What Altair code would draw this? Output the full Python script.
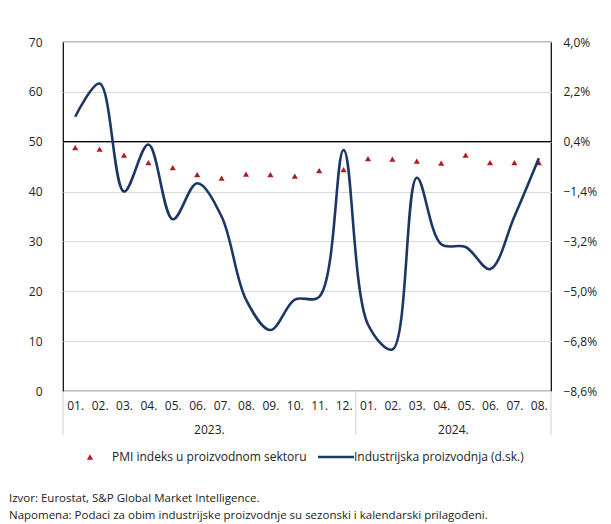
import altair as alt
import pandas as pd

months = ["01.", "02.", "03.", "04.", "05.", "06.", "07.", "08.", "09.", "10.", "11.", "12.",
          "01.", "02.", "03.", "04.", "05.", "06.", "07.", "08."]
years = ["2023.", "2024."]
year_centers = [5.5, 15.5]
separators = [-0.5, 11.5, 19.5]
pmi = [48.8, 48.5, 47.3, 45.8, 44.8, 43.4, 42.7, 43.5, 43.4, 43.1, 44.2, 44.4,
       46.6, 46.5, 46.1, 45.7, 47.3, 45.8, 45.8, 45.8]
ip = [1.3, 2.5, -1.4, 0.3, -2.4, -1.1, -2.3, -5.3, -6.4, -5.3, -5.2, 0.1,
      -6.2, -7.1, -0.9, -3.3, -3.4, -4.2, -2.3, -0.2]
left_ticks = [0, 10, 20, 30, 40, 50, 60, 70]
right_ticks = [-8.6, -6.8, -5.0, -3.2, -1.4, 0.4, 2.2, 4.0]
legend_labels = ["PMI indeks u proizvodnom sektoru", "Industrijska proizvodnja (d.sk.)"]
footer = ["Izvor: Eurostat, S&P Global Market Intelligence.",
          "Napomena: Podaci za obim industrijske proizvodnje su sezonski i kalendarski prilagođeni."]

FONT = "Open Sans"
RED = "#b01c26"
NAVY = "#1d3765"
W, H = 488, 349

df = pd.DataFrame({"x": list(range(len(months))), "pmi": pmi, "ip": ip})
sep_df = pd.DataFrame({"x": separators})
year_df = pd.DataFrame({"x": year_centers, "label": years})

month_expr = "[" + ",".join("'%s'" % m for m in months) + "][datum.value]"
X = alt.X("x:Q", scale=alt.Scale(domain=[-0.5, 19.5], nice=False, zero=False),
          axis=alt.Axis(values=list(range(len(months))), labelExpr=month_expr, title=None,
                        grid=False, ticks=False, domain=False, labelPadding=9,
                        labelFont=FONT, labelFontSize=12, labelColor="#222"))

points = alt.Chart(df).mark_point(shape="triangle-up", filled=True, color=RED, size=38, opacity=1).encode(
    x=X,
    y=alt.Y("pmi:Q", scale=alt.Scale(domain=[0, 70], nice=False),
            axis=alt.Axis(values=left_ticks, title=None, grid=True, gridColor="#d9d9d9",
                          gridWidth=1.2, ticks=False, domain=False, labelPadding=21,
                          labelFont=FONT, labelFontSize=12, labelColor="#222")),
)

rule50 = alt.Chart(pd.DataFrame({"v": [50]})).mark_rule(color="#000", strokeWidth=1.3).encode(
    y=alt.Y("v:Q", scale=alt.Scale(domain=[0, 70], nice=False), axis=None)
)

line = alt.Chart(df).mark_line(color=NAVY, strokeWidth=2.6, interpolate="catmull-rom").encode(
    x=X,
    y=alt.Y("ip:Q", scale=alt.Scale(domain=[-8.6, 4.0], nice=False, zero=False),
            axis=alt.Axis(orient="right", values=right_ticks, title=None, grid=False, ticks=False,
                          domain=False, labelPadding=12, labelFont=FONT, labelFontSize=12,
                          labelColor="#222",
                          labelExpr="replace(format(datum.value, '.1f'), '.', ',') + '%'")),
)

seps = alt.Chart(sep_df).mark_rule(color="#d0d0d0", strokeWidth=1).encode(
    x=X, y=alt.value(H), y2=alt.value(H + 44)
)

year_text = alt.Chart(year_df).mark_text(font=FONT, fontSize=12, color="#222", baseline="middle").encode(
    x=X, y=alt.value(H + 39), text="label:N"
)

leg_tri = alt.Chart(pd.DataFrame({"a": [0]})).mark_point(
    shape="triangle-up", filled=True, color=RED, size=38, opacity=1
).encode(x=alt.value(27), y=alt.value(415))
leg_line = alt.Chart(pd.DataFrame({"a": [0]})).mark_rule(color=NAVY, strokeWidth=2.6).encode(
    x=alt.value(255), x2=alt.value(291), y=alt.value(415)
)
leg_text = alt.Chart(pd.DataFrame({"t": legend_labels, "px": [49, 291]})).mark_text(
    font=FONT, fontSize=12, color="#222", align="left", baseline="middle"
).encode(x=alt.X("px:Q", scale=None), y=alt.value(415), text="t:N")

foot = alt.Chart(pd.DataFrame({"t": footer, "py": [457, 474]})).mark_text(
    font=FONT, fontSize=11.5, color="#222", align="left", baseline="middle"
).encode(x=alt.value(-54), y=alt.Y("py:Q", scale=None), text="t:N")

chart = alt.layer(points, rule50, line, seps, year_text, leg_tri, leg_line, leg_text, foot).resolve_scale(
    y="independent"
).properties(
    width=W, height=H,
    padding={"left": 55, "top": 34, "right": 52, "bottom": 133},
    autosize=alt.AutoSizeParams(type="none"),
).configure_view(stroke="#000", strokeWidth=1.2)

chart.save("out.html", embed_options={"renderer": "svg", "actions": False})
